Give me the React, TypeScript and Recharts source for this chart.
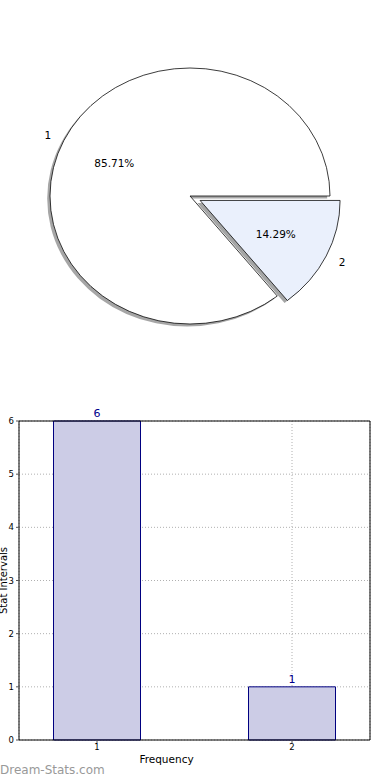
import React from 'react';
import { PieChart, Pie, Cell, BarChart, Bar, XAxis, YAxis, CartesianGrid, LabelList, ReferenceLine, Label } from 'recharts';

const pieNames = ['1', '2'];
const pieValues = [6, 1];
const barCategories = [1, 2];
const barValues = [6, 1];
const yTicks = [0, 1, 2, 3, 4, 5, 6];
const xTicks = [1, 2];

const pieData = pieNames.map((n, i) => ({ name: n, value: pieValues[i] }));
const barData = barCategories.map((c, i) => ({ cat: c, value: barValues[i] }));

const FONT = '"DejaVu Sans", sans-serif';
const R = 140;
const S = 128 / 140;
const CX = 190;
const CY = 196;
const EXPLODE = 0.08;
const SH = 2.8;
const RAD = Math.PI / 180;

const fills = ['#ffffff', '#eaf0fc'];

// explode offset of slice 2 along its mid angle
const total = pieValues.reduce((a, b) => a + b, 0);
const mid2 = 360 - (pieValues[1] / total) * 180;
const ex = EXPLODE * R * Math.cos(-mid2 * RAD);
const ey = EXPLODE * R * Math.sin(-mid2 * RAD);

const makeLabel = (idx: number) => (p: any) => {
  if (p.index !== idx) return <g />;
  const a = -p.midAngle * RAD;
  const cos = Math.cos(a);
  const sin = Math.sin(a);
  const lx = p.cx + 1.1 * R * cos;
  const ly = p.cy + 1.1 * R * sin;
  const px = p.cx + 0.6 * R * cos;
  const py = p.cy + 0.6 * R * sin;
  const pct = (p.percent * 100).toFixed(2) + '%';
  return (
    <g>
      <text
        transform={`translate(${lx} ${ly}) scale(1 ${1 / S})`}
        x={0}
        y={0}
        textAnchor={cos < 0 ? 'end' : 'start'}
        dominantBaseline="central"
        fontFamily={FONT}
        fontSize={10.5}
        fill="#000"
        stroke="none"
      >
        {p.name}
      </text>
      <text
        transform={`translate(${px} ${py}) scale(1 ${1 / S})`}
        x={0}
        y={0}
        textAnchor="middle"
        dominantBaseline="central"
        fontFamily={FONT}
        fontSize={10.5}
        fill="#000"
        stroke="none"
      >
        {pct}
      </text>
    </g>
  );
};

const pieCommon = {
  data: pieData,
  dataKey: 'value',
  nameKey: 'name',
  startAngle: 0,
  endAngle: 360,
  innerRadius: 0,
  outerRadius: R,
  isAnimationActive: false,
  labelLine: false,
};

export default function App() {
  return (
    <div style={{ position: 'absolute', left: 0, top: 0, width: 390, height: 780, background: '#fff', fontFamily: FONT }}>
      <div
        style={{
          position: 'absolute',
          left: 0,
          top: 0,
          width: 390,
          height: 392,
          transform: `scaleY(${S})`,
          transformOrigin: `${CX}px ${CY}px`,
        }}
      >
        <PieChart width={390} height={392} margin={{ top: 0, right: 0, bottom: 0, left: 0 }}>
          <Pie {...pieCommon} cx={CX + -SH} cy={CY + SH}>
            <Cell fill="#4d4d4d" fillOpacity={0.5} stroke="none" />
            <Cell fill="none" stroke="none" />
          </Pie>
          <Pie {...pieCommon} cx={CX} cy={CY} label={makeLabel(0)}>
            <Cell fill={fills[0]} stroke="#000" strokeWidth={0.8} />
            <Cell fill="none" stroke="none" />
          </Pie>
          <Pie {...pieCommon} cx={CX + ex - SH} cy={CY + ey + SH}>
            <Cell fill="none" stroke="none" />
            <Cell fill="#4a4b4c" fillOpacity={0.5} stroke="none" />
          </Pie>
          <Pie {...pieCommon} cx={CX + ex} cy={CY + ey} label={makeLabel(1)}>
            <Cell fill="none" stroke="none" />
            <Cell fill={fills[1]} stroke="#000" strokeWidth={0.8} />
          </Pie>
        </PieChart>
      </div>

      <div style={{ position: 'absolute', left: 0, top: 400, width: 390, height: 380 }}>
        <BarChart
          width={390}
          height={380}
          data={barData}
          margin={{ top: 21, right: 20, left: 0, bottom: 0 }}
        >
          <CartesianGrid stroke="#b0b0b0" strokeDasharray="1 2" horizontal vertical />
          <XAxis
            dataKey="cat"
            type="number"
            domain={[0.6, 2.4]}
            ticks={xTicks}
            allowDataOverflow
            height={40}
            tickSize={3}
            tickMargin={1}
            axisLine={{ stroke: '#000', strokeWidth: 1 }}
            tickLine={{ stroke: '#555' }}
            tick={{ fontSize: 8.5, fill: '#000', fontFamily: FONT }}
          >
            <Label value="Frequency" position="insideTop" offset={16} dx={-28} fontSize={10.5} fill="#000" fontFamily={FONT} />
          </XAxis>
          <YAxis
            type="number"
            domain={[0, 6]}
            ticks={yTicks}
            width={19}
            tickSize={3}
            tickMargin={2}
            axisLine={{ stroke: '#000', strokeWidth: 1 }}
            tickLine={{ stroke: '#555' }}
            tick={{ fontSize: 8.5, fill: '#000', fontFamily: FONT }}
          >
            <Label
              value="Stat Intervals"
              angle={-90}
              position="insideLeft"
              offset={3.5}
              style={{ textAnchor: 'middle' }}
              fontSize={10}
              fill="#000"
              fontFamily={FONT}
            />
          </YAxis>
          <ReferenceLine y={6} stroke="#000" strokeWidth={1} />
          <ReferenceLine x={2.4} stroke="#000" strokeWidth={1} />
          <Bar dataKey="value" barSize={87} fill="#ccccE6" stroke="#000080" strokeWidth={1} isAnimationActive={false}>
            <LabelList dataKey="value" position="top" offset={4} fill="#00008b" fontSize={11} fontFamily={FONT} />
          </Bar>
        </BarChart>
      </div>

      <div
        style={{
          position: 'absolute',
          left: 0,
          top: 763,
          fontFamily: FONT,
          fontSize: 12,
          color: '#999',
          lineHeight: '14px',
          whiteSpace: 'nowrap',
        }}
      >
        Dream-Stats.com
      </div>
    </div>
  );
}
